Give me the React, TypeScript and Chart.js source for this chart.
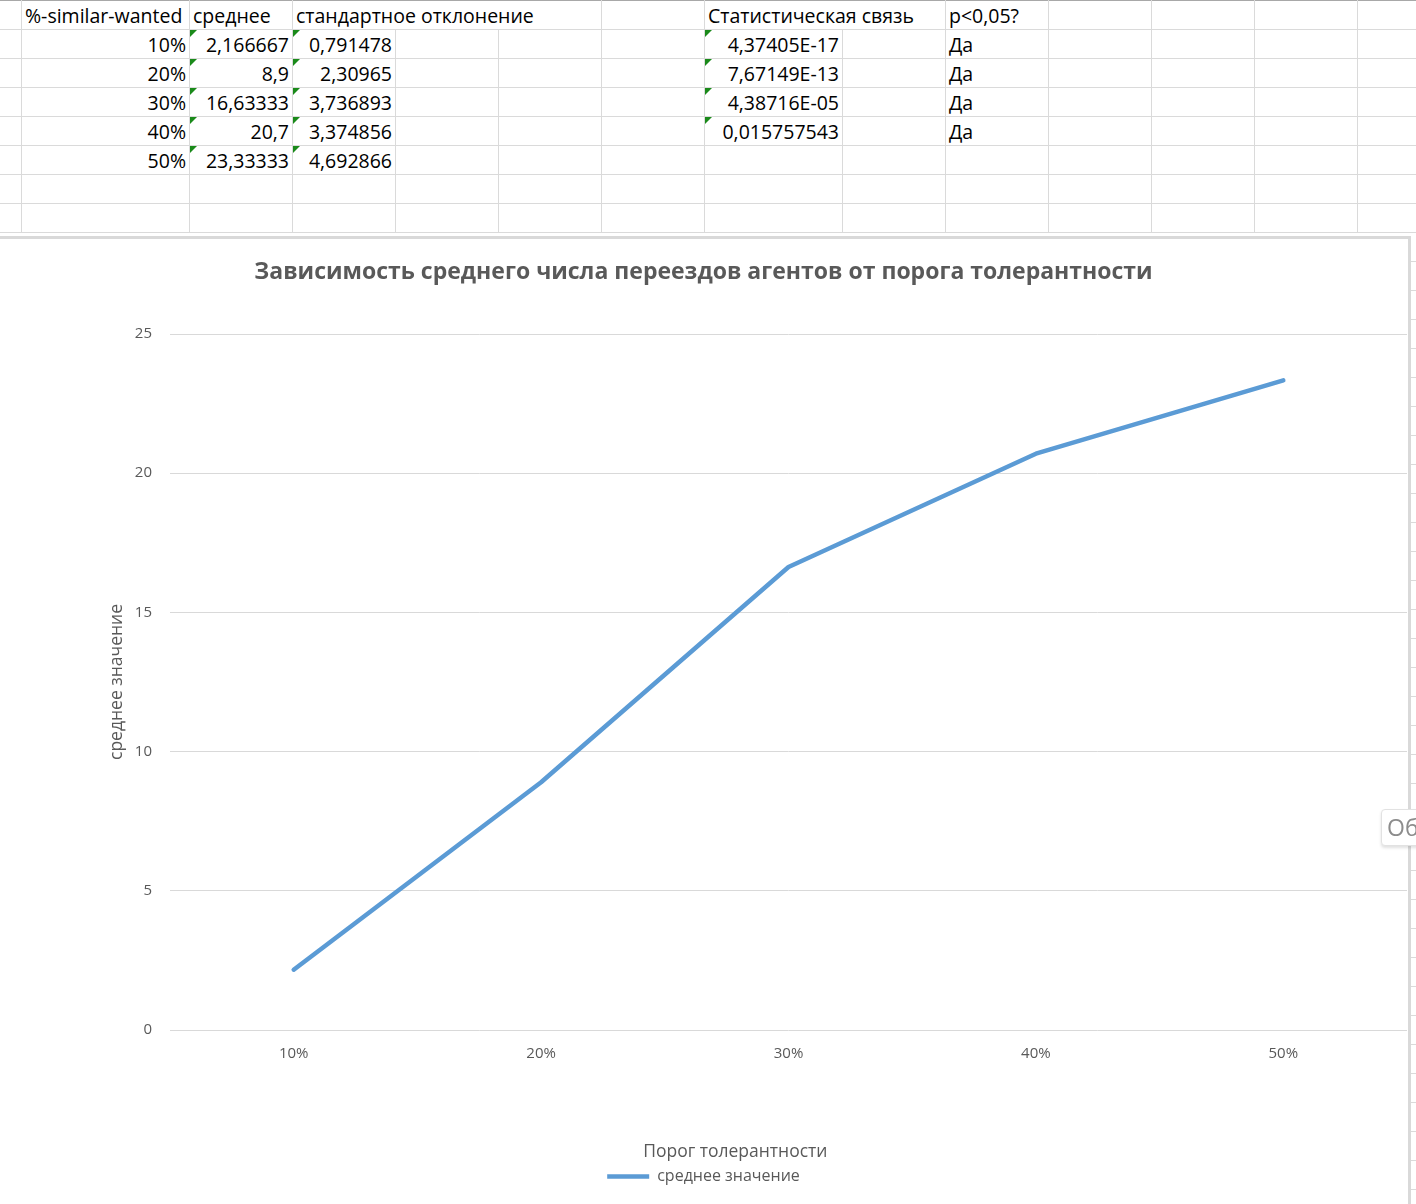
import React, { useEffect, useRef } from "react";
import { Chart, registerables } from "chart.js";

Chart.register(...registerables);

// ---- data ----
const categories = ["10%", "20%", "30%", "40%", "50%"];
const meanValues = [2.166667, 8.9, 16.63333, 20.7, 23.33333];
const meanLabels = ["2,166667", "8,9", "16,63333", "20,7", "23,33333"];
const stdDevLabels = ["0,791478", "2,30965", "3,736893", "3,374856", "4,692866"];
const pValueLabels = ["4,37405E-17", "7,67149E-13", "4,38716E-05", "0,015757543"];
const significantLabels = ["Да", "Да", "Да", "Да"];
const headerLabels = ["%-similar-wanted", "среднее", "стандартное отклонение", "Статистическая связь", "p<0,05?"];
const yTickStep = 5;
const yMin = 0;
const yMax = 25;
const chartTitle = "Зависимость среднего числа переездов агентов от порога толерантности";
const xAxisTitle = "Порог толерантности";
const yAxisTitle = "среднее значение";
const seriesName = "среднее значение";

const FONT = "'Open Sans', sans-serif";
const GRAY = "#595959";
const GRID = "#dadada";

const colEdges = [0, 21, 189, 292, 395, 498, 601, 704, 842, 945, 1048, 1151, 1254, 1357, 1460];
const rowH = 29;

type CellProps = { col: number; row: number; text: string; align: "left" | "right" };

function Cell({ col, row, text, align }: CellProps) {
  const left = colEdges[col];
  const right = colEdges[col + 1];
  const style: React.CSSProperties = {
    position: "absolute",
    top: row * rowH + 1,
    height: rowH,
    lineHeight: rowH + "px",
    whiteSpace: "nowrap",
    fontFamily: FONT,
    fontSize: 19.5,
    color: "#000",
  };
  if (align === "right") {
    style.left = left;
    style.width = right - left - 3;
    style.textAlign = "right";
  } else {
    style.left = left + 4;
  }
  return <div style={style}>{text}</div>;
}

function Triangle({ col, row }: { col: number; row: number }) {
  return (
    <div
      style={{
        position: "absolute",
        left: colEdges[col] + 1,
        top: row * rowH + 1,
        width: 0,
        height: 0,
        borderTop: "7px solid #1a8a1a",
        borderRight: "7px solid transparent",
      }}
    />
  );
}

function Sheet() {
  const items: React.ReactNode[] = [];
  for (let k = 1; k <= 42; k++) {
    items.push(
      <div key={"h" + k} style={{ position: "absolute", left: 0, width: 1416, top: k * rowH, height: 1, background: GRID }} />
    );
  }
  items.push(<div key="top" style={{ position: "absolute", left: 0, width: 1416, top: 0, height: 1, background: "#a8a8a8" }} />);
  for (let r = 0; r < 8; r++) {
    for (let c = 1; c < colEdges.length - 1; c++) {
      const x = colEdges[c];
      if (r === 0 && (x === 395 || x === 498 || x === 842)) continue;
      items.push(
        <div key={`v${r}-${c}`} style={{ position: "absolute", left: x, width: 1, top: r * rowH, height: rowH + 1, background: GRID }} />
      );
    }
  }
  items.push(<Cell key="hb" col={1} row={0} text={headerLabels[0]} align="left" />);
  items.push(<Cell key="hc" col={2} row={0} text={headerLabels[1]} align="left" />);
  items.push(<Cell key="hd" col={3} row={0} text={headerLabels[2]} align="left" />);
  items.push(<Cell key="hh" col={7} row={0} text={headerLabels[3]} align="left" />);
  items.push(<Cell key="hj" col={9} row={0} text={headerLabels[4]} align="left" />);
  categories.forEach((cat, i) => {
    const r = i + 1;
    items.push(<Cell key={"b" + r} col={1} row={r} text={cat} align="right" />);
    items.push(<Cell key={"c" + r} col={2} row={r} text={meanLabels[i]} align="right" />);
    items.push(<Cell key={"d" + r} col={3} row={r} text={stdDevLabels[i]} align="right" />);
    items.push(<Triangle key={"tc" + r} col={2} row={r} />);
    items.push(<Triangle key={"td" + r} col={3} row={r} />);
  });
  pValueLabels.forEach((p, i) => {
    const r = i + 1;
    items.push(<Cell key={"h" + r} col={7} row={r} text={p} align="right" />);
    items.push(<Cell key={"j" + r} col={9} row={r} text={significantLabels[i]} align="left" />);
    items.push(<Triangle key={"th" + r} col={7} row={r} />);
  });
  return <>{items}</>;
}

// draws the x-axis title (Excel places it slightly left of the plot centre)
const xTitlePlugin = {
  id: "xTitle",
  afterDraw(chart: any) {
    const { ctx, chartArea } = chart;
    const x = chartArea.left + (chartArea.right - chartArea.left) * 0.457;
    const y = chartArea.bottom + 122;
    ctx.save();
    ctx.font = `17.5px ${FONT}`;
    ctx.fillStyle = GRAY;
    ctx.textAlign = "center";
    ctx.textBaseline = "middle";
    ctx.fillText(xAxisTitle, x, y);
    ctx.restore();
  },
};

function LineChart() {
  const ref = useRef<HTMLCanvasElement>(null);
  useEffect(() => {
    const chart = new Chart(ref.current as HTMLCanvasElement, {
      type: "line",
      data: {
        labels: categories,
        datasets: [
          {
            label: seriesName,
            data: meanValues,
            borderColor: "#5B9BD5",
            backgroundColor: "#5B9BD5",
            borderWidth: 4.5,
            pointRadius: 0,
            pointHoverRadius: 0,
            tension: 0,
            fill: false,
            borderCapStyle: "round",
            borderJoinStyle: "round",
          },
        ],
      },
      plugins: [xTitlePlugin],
      options: {
        animation: false,
        responsive: false,
        maintainAspectRatio: false,
        devicePixelRatio: 1,
        events: [],
        layout: { padding: { left: 0, right: 1, top: 0, bottom: 9.5 } },
        plugins: {
          title: {
            display: true,
            text: chartTitle,
            color: GRAY,
            font: { family: FONT, size: 23, weight: "bold" },
            padding: { top: 19.2, bottom: 48.2 },
          },
          legend: {
            display: true,
            position: "bottom",
            labels: {
              usePointStyle: true,
              pointStyle: "line",
              pointStyleWidth: 42,
              color: GRAY,
              font: { family: FONT, size: 16 },
              padding: 10,
            },
          },
          tooltip: { enabled: false },
        },
        scales: {
          x: {
            offset: true,
            grid: { display: false },
            border: { display: false },
            ticks: { color: GRAY, font: { family: FONT, size: 15 }, padding: 7 },
            title: { display: false },
            afterFit: (s: any) => {
              s.height = 128.5;
            },
          },
          y: {
            min: yMin,
            max: yMax,
            ticks: { stepSize: yTickStep, color: GRAY, font: { family: FONT, size: 15 }, padding: 18 },
            grid: { color: "#D9D9D9", lineWidth: 1, drawTicks: false },
            border: { display: false },
            title: {
              display: true,
              text: yAxisTitle,
              color: GRAY,
              font: { family: FONT, size: 17.5 },
              padding: { top: 106.5, bottom: 0 },
            },
            afterFit: (s: any) => {
              s.width = 170;
            },
          },
        },
      } as any,
    });
    return () => chart.destroy();
  }, []);
  return <canvas ref={ref} width={1408} height={965} style={{ display: "block", width: 1408, height: 965 }} />;
}

export default function App() {
  return (
    <div style={{ position: "absolute", left: 0, top: 0, width: 1416, height: 1204, overflow: "hidden", background: "#fff" }}>
      <Sheet />
      <div
        style={{
          position: "absolute",
          left: -3,
          top: 236,
          width: 1408,
          height: 1204,
          border: "3px solid #d9d9d9",
          background: "#fff",
        }}
      >
        <LineChart />
      </div>
      <div
        style={{
          position: "absolute",
          left: 1381,
          top: 809,
          width: 60,
          height: 35,
          border: "1px solid #e2e2e2",
          borderRadius: 4,
          boxShadow: "0 2px 3px rgba(0,0,0,0.12)",
          background: "#fff",
          fontFamily: FONT,
          fontSize: 23,
          color: "#8c8c8c",
          lineHeight: "35px",
          paddingLeft: 5,
        }}
      >
        Об
      </div>
    </div>
  );
}
